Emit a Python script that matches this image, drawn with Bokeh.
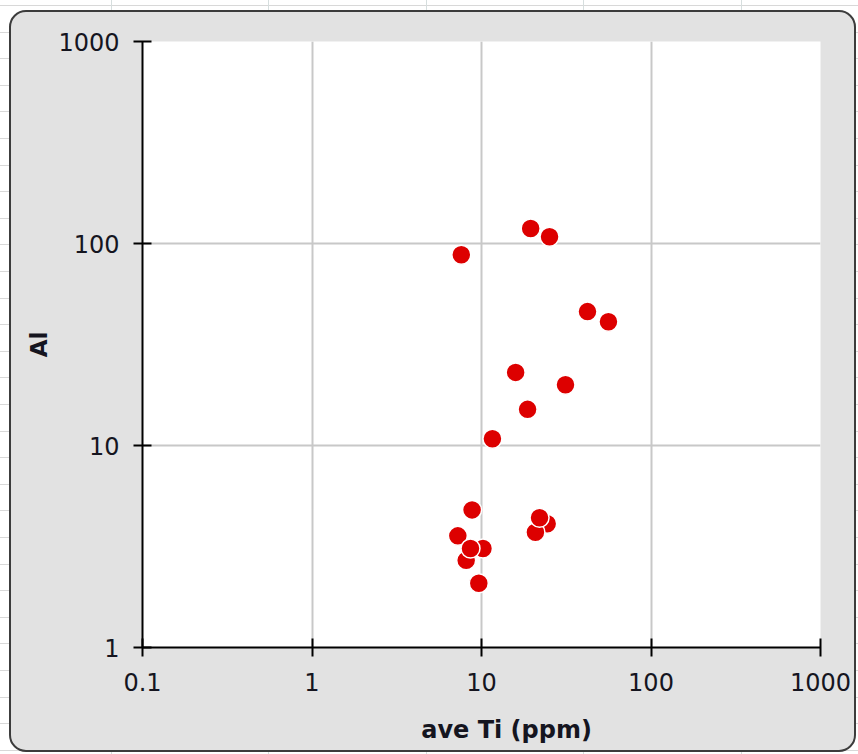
from bokeh.plotting import figure
from bokeh.models import FixedTicker, CustomJSTickFormatter
from bokeh.layouts import column
from bokeh.embed import file_html
from bokeh.resources import INLINE

# data (drawing order matters for overlaps)
ti = [19.5, 25.2, 7.6, 42.2, 56.1, 15.9, 31.3, 18.7, 11.6, 8.8, 7.25,
      10.2, 8.12, 8.61, 9.64, 24.4, 20.8, 22.0]
al = [118.6, 108.0, 88.0, 46.0, 41.0, 23.0, 20.0, 15.1, 10.8, 4.8, 3.57,
      3.09, 2.70, 3.09, 2.08, 4.10, 3.72, 4.39]

x_ticks = [0.1, 1, 10, 100, 1000]
y_ticks = [1, 10, 100, 1000]
x_title = "ave Ti (ppm)"
y_title = "Al"

FONT = "DejaVu Sans"

p = figure(
    width=847, height=742,
    x_axis_type="log", y_axis_type="log",
    x_range=(0.1, 1000), y_range=(1, 1000),
    output_backend="svg", toolbar_location=None,
    min_border_left=131, min_border_top=29,
    min_border_right=38, min_border_bottom=107,
    background_fill_color="white", border_fill_color=None,
    outline_line_color=None,
    margin=(10, 0, 0, 9),
    styles={
        "background-color": "#e2e2e2",
        "border": "2px solid #3c3c3c",
        "border-radius": "17px",
        "box-sizing": "border-box",
        "overflow": "hidden",
    },
)

fmt = CustomJSTickFormatter(code="return tick.toString();")
for ax, ticks in ((p.xaxis[0], x_ticks), (p.yaxis[0], y_ticks)):
    ax.ticker = FixedTicker(ticks=ticks)
    ax.formatter = fmt
    ax.minor_tick_line_color = None
    ax.axis_line_color = "black"
    ax.axis_line_width = 2
    ax.major_tick_line_color = "black"
    ax.major_tick_line_width = 2
    ax.major_tick_in = 9
    ax.major_tick_out = 9
    ax.major_label_text_font = FONT
    ax.major_label_text_font_size = "24px"
    ax.major_label_text_color = "#15151f"
    ax.axis_label_text_font = FONT
    ax.axis_label_text_font_style = "bold"
    ax.axis_label_text_color = "#15151f"

p.xaxis.major_label_standoff = 16
p.yaxis.major_label_standoff = 14

# x title sits right of the frame centre in the original: pad with no-break spaces
p.xaxis.axis_label = "\u00a0" * 6 + x_title
p.xaxis.axis_label_text_font_size = "24px"
p.xaxis.axis_label_standoff = 22

p.yaxis.axis_label = y_title
p.yaxis.axis_label_text_font_size = "23px"
p.yaxis.axis_label_standoff = 3

p.grid.grid_line_color = "#c8c8c8"
p.grid.grid_line_width = 2

p.scatter(ti, al, size=19, fill_color="#dd0000", line_color="white",
          line_width=1.5, marker="circle")

page = column(
    p, width=858, height=754,
    styles={
        "background-color": "white",
        "background-image": (
            "repeating-linear-gradient(to right, transparent 0px, transparent 111px, "
            "#d6dede 111px, #d6dede 112px, transparent 112px, transparent 157.5px), "
            "repeating-linear-gradient(to bottom, transparent 0px, transparent 5px, "
            "#d8d8d8 5px, #d8d8d8 6px, transparent 6px, transparent 26.6px)"
        ),
    },
)

open("out.html", "w").write(file_html(page, INLINE))
